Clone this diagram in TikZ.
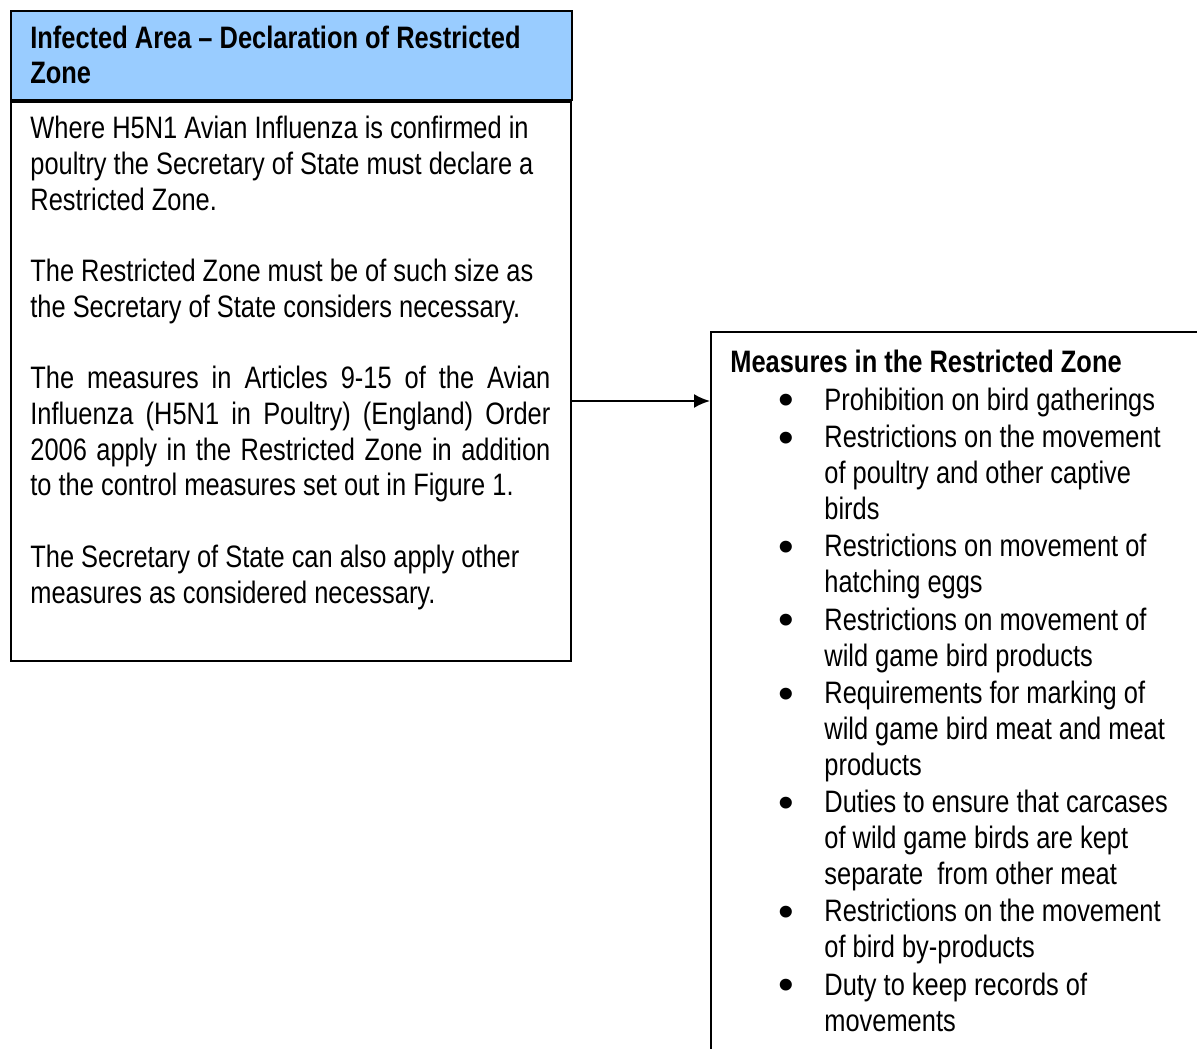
\documentclass[tikz,border=0pt]{standalone}
\usepackage{fontspec}
\setmainfont[FakeStretch=0.82]{Liberation Sans}
\usetikzlibrary{arrows.meta,calc}
\definecolor{headblue}{HTML}{99CCFF}
\newcommand\bul{\hspace*{28pt}\makebox[0pt]{\raisebox{-2.2pt}{\scalebox{1.75}[1.4]{\textbullet}}}\hspace*{19pt}}
\newcommand\cont{\hspace*{47pt}}
\tikzset{
  panel/.style={draw=black, line width=1pt, inner sep=0pt},
  words/.style={inner sep=0pt, align=left, font=\fontsize{15.5}{17.85}\selectfont},
}

\begin{document}
\begin{tikzpicture}[x=0.5pt,y=-0.5pt]
\useasboundingbox (0,0) rectangle (1197,1048);
\clip (0,0) rectangle (1197,1048);

% left hand side: declaration
\node[panel, fill=headblue, anchor=north west, minimum width=280.5pt, minimum height=44.5pt] (header) at (10,10) {};
\node[panel, anchor=north west, minimum width=280pt, minimum height=279.5pt] (body) at (header.south west) {};

% base anchor sits on the last line
\node[words, anchor=base west] (headtext) at (30,84) {\bfseries Infected Area – Declaration of Restricted\\\bfseries Zone};

\node[words, anchor=base west] (bodytext) at (30,603) {Where H5N1 Avian Influenza is confirmed in\\
poultry the Secretary of State must declare a\\
Restricted Zone.\\[17.85pt]
The Restricted Zone must be of such size as\\
the Secretary of State considers necessary.\\[17.85pt]
\makebox[260pt][s]{The measures in Articles 9-15 of the Avian}\\
\makebox[260pt][s]{Influenza (H5N1 in Poultry) (England) Order}\\
\makebox[260pt][s]{2006 apply in the Restricted Zone in addition}\\
to the control measures set out in Figure 1.\\[17.85pt]
The Secretary of State can also apply other\\
measures as considered necessary.};

% right hand side: measures
\node[panel, anchor=north west, minimum width=260pt, minimum height=370pt] (measures) at (710,331) {};

\node[words, anchor=base west] (listtext) at (730,1031) {\bfseries Measures in the Restricted Zone\\[1pt]
\bul Prohibition on bird gatherings\\[1pt]
\bul Restrictions on the movement\\
\cont of poultry and other captive\\
\cont birds\\[1pt]
\bul Restrictions on movement of\\
\cont hatching eggs\\[1pt]
\bul Restrictions on movement of\\
\cont wild game bird products\\[1pt]
\bul Requirements for marking of\\
\cont wild game bird meat and meat\\
\cont products\\[1pt]
\bul Duties to ensure that carcases\\
\cont of wild game birds are kept\\
\cont separate~ from other meat\\[1pt]
\bul Restrictions on the movement\\
\cont of bird by-products\\[1pt]
\bul Duty to keep records of\\
\cont movements};

\coordinate (link) at (640,401);
\draw[line width=1pt, -{Latex[length=8pt,width=7pt]}] (body.east |- link) -- (measures.west |- link);
\end{tikzpicture}
\end{document}
